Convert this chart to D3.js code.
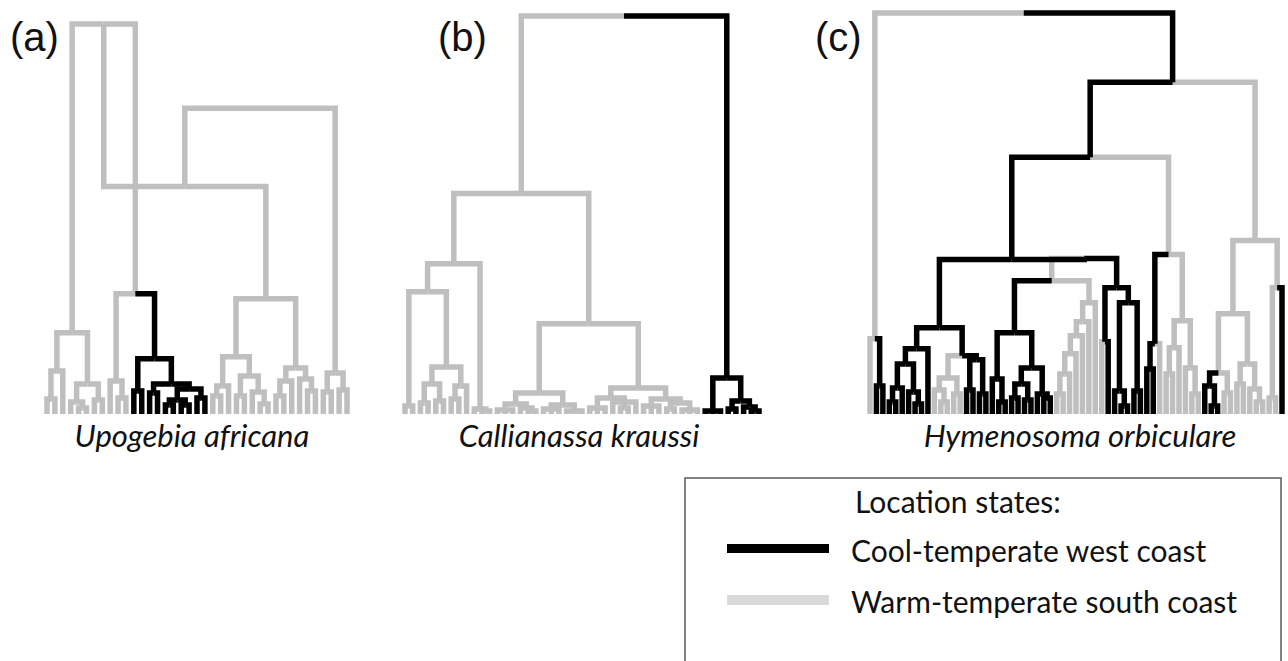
<!DOCTYPE html>
<html>
<head>
<meta charset="utf-8">
<script src="https://cdn.jsdelivr.net/npm/d3@7"></script>
<style>
  body { margin: 0; background: #fff; }
</style>
</head>
<body>
<svg id="fig" width="1288" height="661"></svg>
<script>
// each node: [age, state, ...children], a leaf is just its state
// W = warm-temperate south coast, C = cool-temperate west coast
// ages: 0 = tips, 100 = top of the panel
const treeA =
[76.25, "W",
  [56.75, "W",
    [97.25, "W",
      [20.25, "W",
        [10.75, "W", [3.75, "W", "W", "W"], "W"],
        [7.5, "W", [3, "W", "W", [1.5, "W", "W", "W"]], [3.5, "W", "W", "W"]]],
      [30, "W",
        [8.25, "W", "W", [4, "W", "W", "W"]],
        [13.75, "C",
          [5.75, "C", "C", "C"],
          [7.5, "C",
            [5.25, "C", "C", "C"],
            [6.25, "C",
              [3.5, "C", [2.25, "C", "C", "C"], [2.25, "C", "C", "C"]],
              [4, "C", "C", "C"]]]]]],
    [28.75, "W",
      [14.25, "W",
        [7, "W", [4.5, "W", "W", "W"], "W"],
        [9.5, "W", [4.5, "W", "W", "W"], [5.5, "W", "W", [2.5, "W", "W", "W"]]]],
      [11.5, "W",
        [8.25, "W", [4.5, "W", "W", "W"], "W"],
        [8.75, "W", "W", [5.75, "W", "W", "W"]]]]],
  [10.25, "W", [5.5, "W", "W", "W"], [6, "W", "W", "W"]]];

const treeB =
[99.25, "W",
  [55, "W",
    [37.5, "W",
      [30.5, "W",
        [2, "W", "W", "W"],
        [11.75, "W",
          [7.5, "W", [2.75, "W", "W", "W"], [3.25, "W", "W", "W"]],
          [7, "W", [3.75, "W", "W", "W"], "W"]]],
      [1.25, "W", "W", [0.75, "W", "W", "W"]]],
    [22.5, "W",
      [5.25, "W",
        [2.5, "W", [1, "W", "W", "W", "W"], [1.5, "W", "W", [0.75, "W", "W", "W"]]],
        [2.25, "W", [1.25, "W", "W", "W", "W"], [0.75, "W", "W", "W", "W"]]],
      [6.5, "W",
        [4, "W", [1.5, "W", "W", "W", "W"], [3, "W", "W", [1.5, "W", "W", "W"], "W"]],
        [3.75, "W", [2, "W", "W", "W", "W"], [2.75, "W", [1.25, "W", "W", "W"], [1, "W", "W", "W", "W"]]]]]],
  [9, "C",
    [0.75, "C", "C", "C", "C"],
    [3.25, "C", [1.25, "C", "C", "C"], [1.75, "C", "C", [0.75, "C", "C", "C"]]]]];

const treeC =
[100, "W",
  [18.75, "W", "W", [7, "C", "C", "C"]],
  [82.75, "C",
    [64, "C",
      [38.5, "C",
        [21.5, "C",
          [16.25, "C",
            [12.5, "C", [6.5, "C", [3, "C", "C", "C"], "C"], [5.5, "C", "C", [2.5, "C", "C", "C"]]],
            "C"],
          [14.5, "C",
            [9, "W", [6, "W", "W", [3, "W", "W", "W"]], [5, "W", "W", "W"]],
            [13.5, "C", [6, "C", "C", "C"], [5, "C", "C", "C"]]]],
        [38.75, "C",
          [33.25, "W",
            [20.25, "C",
              [8.75, "C", "C", [3, "C", "C", "C"]],
              [11.5, "C",
                [7.5, "C", [4, "C", "C", "C"], [3.5, "C", "C", "C"]],
                [5, "C", "C", [4, "C", "C", "C"]]]],
            [27.75, "W", [23, "W", [19.5, "W", [15, "W", [10, "W", [5, "W", "W", "W"], "W"], "W"], "W"], "W"], "W"]],
          [31.5, "C",
            [18, "C", "W", "C"],
            [27.75, "C", [5.75, "C", "C", [2, "C", "C", "C"]], [5.75, "C", "C", "C"]]]]],
      [39.75, "W",
        [17.5, "C", [11.25, "C", "C", "C"], "W"],
        [23.25, "W",
          [16.5, "W", [10, "W", "W", "W"], "W"],
          [11.5, "W", "W", [5, "W", "W", "W"]]]]],
    [43.25, "W",
      [25, "W",
        [10.25, "W", [7, "C", "C", [2, "C", "C", "C"]], [5.25, "W", "W", "W"]],
        [12.5, "W", [7.5, "W", "W", "W"], [6.25, "W", "W", [3, "W", "W", "W"]]]],
      [31.5, "W", [4, "W", "W", "W"], "C"]]]];

const panelTags = ["(a)", "(b)", "(c)"];
const speciesNames = ["Upogebia africana", "Callianassa kraussi", "Hymenosoma orbiculare"];
const legendTitle = "Location states:";
const legendStates = ["C", "W"];
const legendLabels = ["Cool-temperate west coast", "Warm-temperate south coast"];

const svg = d3.select("#fig");

const yAge = d3.scaleLinear().domain([0, 100]).range([414, 13]);
const branchColor = s => s === "C" ? "#000" : "#bfbfbf";

// tip span and label spots for each panel
const panels = [
  { tree: treeA, x0: 47, x1: 347, tagX: 10, nameX: 192 },
  { tree: treeB, x0: 405, x1: 759, tagX: 438, nameX: 579 },
  { tree: treeC, x0: 870, x1: 1282, tagX: 815, nameX: 1080 }
];

panels.forEach((p, i) => {
  const root = d3.hierarchy(p.tree, d => Array.isArray(d) ? d.slice(2) : null);
  d3.cluster().separation(() => 1).size([1, 1])(root);

  const x = d3.scaleLinear()
    .domain(d3.extent(root.leaves(), d => d.x))
    .range([p.x0, p.x1]);

  const age = d => Array.isArray(d.data) ? d.data[0] : 0;
  const state = d => Array.isArray(d.data) ? d.data[1] : d.data;

  // grey first so the black branches sit on top
  const branches = root.descendants()
    .filter(d => d.parent)
    .sort((a, b) => (state(a) === "C") - (state(b) === "C"));

  svg.append("g")
    .selectAll("path")
    .data(branches)
    .join("path")
    .attr("d", d => `M${x(d.parent.x)},${yAge(age(d.parent))}H${x(d.x)}V${yAge(age(d))}`)
    .attr("fill", "none")
    .attr("stroke", d => branchColor(state(d)))
    .attr("stroke-width", 5.5)
    .attr("stroke-linejoin", "miter")
    .attr("stroke-linecap", "butt");

  svg.append("text")
    .attr("x", p.tagX)
    .attr("y", 51)
    .attr("font-family", "Liberation Sans, Arial, sans-serif")
    .attr("font-size", 40)
    .attr("fill", "#111")
    .text(panelTags[i]);

  svg.append("text")
    .attr("x", p.nameX)
    .attr("y", 447)
    .attr("text-anchor", "middle")
    .attr("font-family", "Lato, sans-serif")
    .attr("font-style", "italic")
    .attr("font-size", 31)
    .attr("fill", "#111")
    .text(speciesNames[i]);
});

// legend
const legend = svg.append("g");

legend.append("rect")
  .attr("x", 685)
  .attr("y", 478)
  .attr("width", 596)
  .attr("height", 220)
  .attr("fill", "none")
  .attr("stroke", "#595959")
  .attr("stroke-width", 1.5);

legend.append("text")
  .attr("x", 855)
  .attr("y", 513)
  .attr("font-family", "Lato, sans-serif")
  .attr("font-size", 30)
  .attr("fill", "#111")
  .text(legendTitle);

const legendY = d3.scalePoint().domain(legendStates).range([548.5, 600]);

legend.selectAll("line")
  .data(legendStates)
  .join("line")
  .attr("x1", 727)
  .attr("x2", 829)
  .attr("y1", d => legendY(d))
  .attr("y2", d => legendY(d))
  .attr("stroke", d => d === "C" ? "#000" : "#d9d9d9")
  .attr("stroke-width", d => d === "C" ? 9 : 10);

legend.selectAll("text.item")
  .data(legendStates)
  .join("text")
  .attr("class", "item")
  .attr("x", 851)
  .attr("y", d => legendY(d) + 13)
  .attr("font-family", "Lato, sans-serif")
  .attr("font-size", 30)
  .attr("fill", "#111")
  .text((d, i) => legendLabels[i]);
</script>
</body>
</html>
